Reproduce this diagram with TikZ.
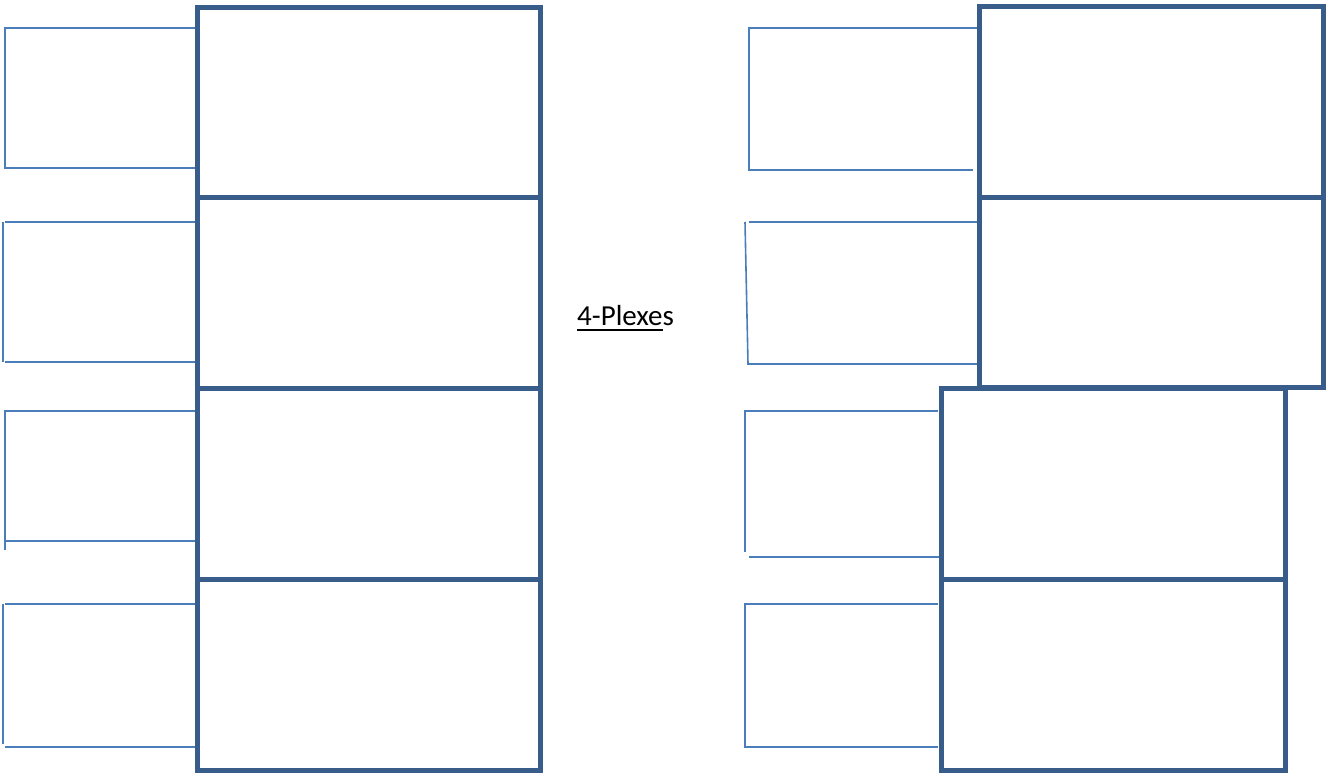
\documentclass[tikz,border=0pt]{standalone}
\usepackage{fontspec}
\setmainfont{Carlito}
\definecolor{boxblue}{HTML}{385D8A}
\definecolor{linkblue}{HTML}{4A7EBB}
\newcommand\myuline[1]{\setbox0\hbox{#1}\rlap{\rule[-5.5pt]{\wd0}{1.8pt}}\box0}
\begin{document}
\begin{tikzpicture}[x=1pt,y=-1pt,
  unitbox/.style={draw=boxblue,line width=5pt,rectangle,inner sep=0pt,minimum width=344pt,minimum height=191pt},
  bracket/.style={draw=linkblue,line width=1.6pt}]
\useasboundingbox (0,0) rectangle (1330,774);
% brackets (drawn first, boxes on top)
\coordinate (l1a) at (196,28);  \coordinate (l1b) at (196,168);
\coordinate (l2a) at (196,222); \coordinate (l2b) at (196,362);
\coordinate (l3a) at (196,411); \coordinate (l3b) at (196,541);
\coordinate (l4a) at (196,604); \coordinate (l4b) at (196,747);
\draw[bracket] (l1a) -- (5,28) -- (5,168) -- (l1b);
\draw[bracket] (l2a) -- (5,222); \draw[bracket] (3,222) -- (3,362); \draw[bracket] (5,362) -- (l2b);
\draw[bracket] (l3a) -- (5,411) -- (5,550); \draw[bracket] (5,541) -- (l3b);
\draw[bracket] (l4a) -- (5,604); \draw[bracket] (3,604) -- (3,744); \draw[bracket] (5,747) -- (l4b);
\coordinate (r1a) at (978,28);  \coordinate (r1b) at (973,170);
\coordinate (r2a) at (978,222); \coordinate (r2b) at (978,364);
\coordinate (r3a) at (938,411); \coordinate (r3b) at (940,557);
\coordinate (r4a) at (938,604); \coordinate (r4b) at (938,747);
\draw[bracket] (r1a) -- (749,28) -- (749,170) -- (r1b);
\draw[bracket] (r2a) -- (749,222); \draw[bracket] (745,222) -- (748,364) -- (r2b);
\draw[bracket] (r3a) -- (745,411) -- (745,552); \draw[bracket] (749,557) -- (r3b);
\draw[bracket] (r4a) -- (745,604) -- (745,747) -- (r4b);
% left column
\node[unitbox,minimum width=343pt,minimum height=190pt] (L1) at (368.5,102) {};
\node[unitbox,minimum width=343pt] (L2) at (368.5,292.5) {};
\node[unitbox,minimum width=343pt] (L3) at (368.5,483.5) {};
\node[unitbox,minimum width=343pt] (L4) at (368.5,674.5) {};
% right column
\node[unitbox] (R1) at (1151,101.5) {};
\node[unitbox,minimum height=190pt] (R2) at (1151,292) {};
\node[unitbox] (R3) at (1113,483.5) {};
\node[unitbox] (R4) at (1113,674.5) {};
% label
\node[anchor=base west,inner sep=0pt,font=\fontsize{29}{34}\selectfont] (title) at (577,325) {\myuline{4-Plexe}s};
\end{tikzpicture}
\end{document}
